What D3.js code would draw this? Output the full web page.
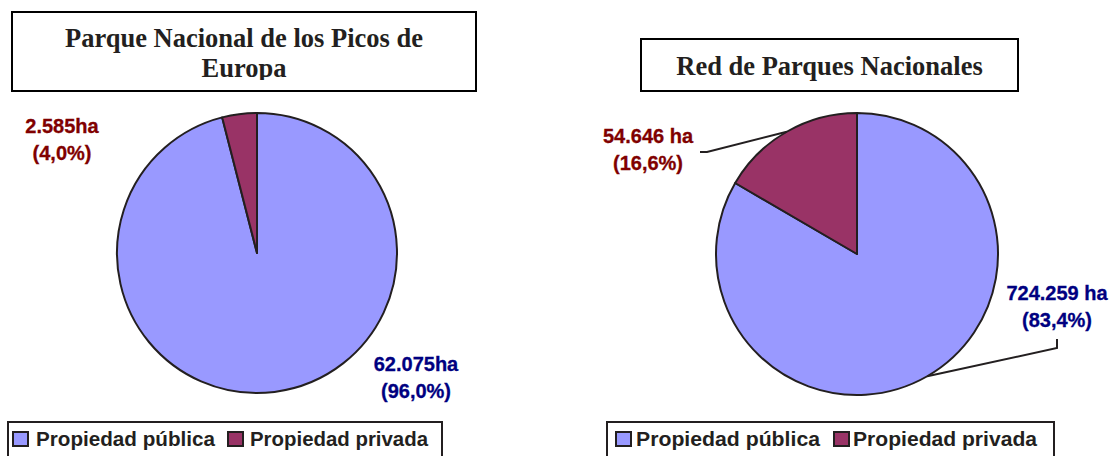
<!DOCTYPE html>
<html>
<head>
<meta charset="utf-8">
<script src="https://cdn.jsdelivr.net/npm/d3@7"></script>
<style>
  body { margin: 0; background: #fff; }
  svg { display: block; }
</style>
</head>
<body>
<svg id="chart" width="1114" height="456"></svg>
<script>
// data
const categories = ["Propiedad pública", "Propiedad privada"];
const picosShare = [96.0, 4.0];
const picosHa = ["62.075ha", "2.585ha"];
const redShare = [83.4, 16.6];
const redHa = ["724.259 ha", "54.646 ha"];
const picosTitle = ["Parque Nacional de los Picos de", "Europa"];
const redTitle = ["Red de Parques Nacionales"];

const colors = ["#9999ff", "#993366"];
const labelColors = ["#000080", "#800000"];
const stroke = "#231f20";

const svg = d3.select("#chart");

const pct = v => "(" + v.toFixed(1).replace(".", ",") + "%)";

// clip for the cut-off second title line
svg.append("defs").append("clipPath")
  .attr("id", "titleClip")
  .append("rect")
  .attr("x", 12).attr("y", 12).attr("width", 464).attr("height", 68);

const panels = [
  {
    share: picosShare, ha: picosHa, title: picosTitle,
    box: {x: 12, y: 12, w: 464, h: 79}, titleY: [47, 77], clip: true,
    cx: 257, cy: 253, r: 140,
    labels: [
      {x: 416, y: 371, leader: false},
      {x: 62, y: 133, leader: false}
    ],
    legend: {x: 8, w: 434, items: [{sq: 13, tx: 36, len: 179}, {sq: 228, tx: 250, len: 178}]}
  },
  {
    share: redShare, ha: redHa, title: redTitle,
    box: {x: 641, y: 39, w: 377, h: 52}, titleY: [75], clip: false,
    cx: 857, cy: 254, r: 141,
    labels: [
      {x: 1057, y: 300, leader: [[1057, 339], [1057, 348]]},
      {x: 648, y: 143, leader: [[700, 152], [707, 152]]}
    ],
    legend: {x: 607, w: 447, items: [{sq: 616, tx: 636, len: 184}, {sq: 834, tx: 853, len: 184}]}
  }
];

const pie = d3.pie().sort(null).value(d => d);

panels.forEach(p => {
  // title box
  svg.append("rect")
    .attr("x", p.box.x).attr("y", p.box.y)
    .attr("width", p.box.w).attr("height", p.box.h)
    .attr("fill", "#fff").attr("stroke", "#000").attr("stroke-width", 2);

  const tg = svg.append("g");
  if (p.clip) tg.attr("clip-path", "url(#titleClip)");
  tg.selectAll("text")
    .data(p.title)
    .enter()
    .append("text")
    .attr("x", p.box.x + p.box.w / 2)
    .attr("y", (d, i) => p.titleY[i])
    .attr("text-anchor", "middle")
    .attr("font-family", "'Liberation Serif', 'Times New Roman', serif")
    .attr("font-weight", "bold")
    .attr("font-size", 26.5)
    .attr("fill", "#231f20")
    .text(d => d);

  // pie
  const arcs = pie(p.share);
  const arc = d3.arc().innerRadius(0).outerRadius(p.r);
  const edge = d3.arc().innerRadius(p.r).outerRadius(p.r);

  const g = svg.append("g").attr("transform", `translate(${p.cx},${p.cy})`);
  g.selectAll("path")
    .data(arcs)
    .enter()
    .append("path")
    .attr("d", arc)
    .attr("fill", (d, i) => colors[i])
    .attr("stroke", stroke)
    .attr("stroke-width", 2)
    .attr("stroke-linejoin", "round");

  // data labels
  arcs.forEach((a, i) => {
    const lab = p.labels[i];
    if (lab.leader) {
      const c = edge.centroid(a);
      const pts = lab.leader.concat([[p.cx + c[0], p.cy + c[1]]]);
      svg.append("path")
        .attr("d", d3.line()(pts))
        .attr("fill", "none")
        .attr("stroke", stroke)
        .attr("stroke-width", 2);
    }
    const t = svg.append("text")
      .attr("text-anchor", "middle")
      .attr("font-family", "Arial, 'Liberation Sans', sans-serif")
      .attr("font-weight", "bold")
      .attr("font-size", 20)
      .attr("stroke", labelColors[i])
      .attr("stroke-width", 0.3)
      .attr("fill", labelColors[i]);
    t.append("tspan").attr("x", lab.x).attr("y", lab.y).text(p.ha[i]);
    t.append("tspan").attr("x", lab.x).attr("y", lab.y + 27).text(pct(p.share[i]));
  });

  // legend
  svg.append("rect")
    .attr("x", p.legend.x).attr("y", 422)
    .attr("width", p.legend.w).attr("height", 60)
    .attr("fill", "#fff").attr("stroke", "#231f20").attr("stroke-width", 2);

  p.legend.items.forEach((it, i) => {
    svg.append("rect")
      .attr("x", it.sq).attr("y", 432)
      .attr("width", 15).attr("height", 14)
      .attr("fill", colors[i])
      .attr("stroke", stroke).attr("stroke-width", 2);
    svg.append("text")
      .attr("x", it.tx).attr("y", 446)
      .attr("font-family", "Arial, 'Liberation Sans', sans-serif")
      .attr("font-weight", "bold")
      .attr("font-size", 20.5)
      .attr("textLength", it.len)
      .attr("lengthAdjust", "spacingAndGlyphs")
      .attr("fill", "#231f20")
      .text(categories[i]);
  });
});
</script>
</body>
</html>
